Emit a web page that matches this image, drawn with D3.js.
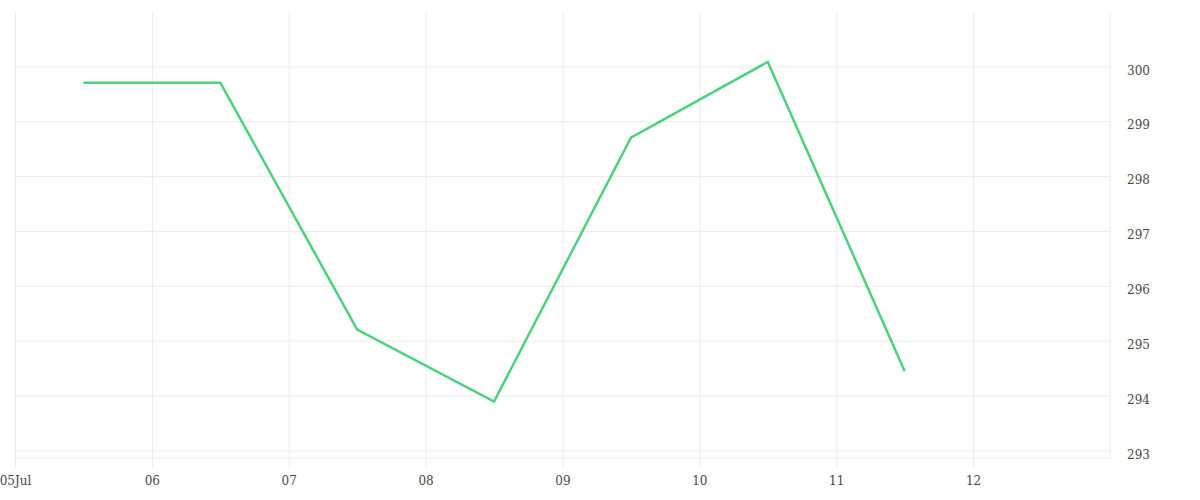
<!DOCTYPE html>
<html>
<head>
<meta charset="utf-8">
<script src="https://cdn.jsdelivr.net/npm/d3@7"></script>
<style>
  body { margin: 0; background: #fff; }
  svg { display: block; }
  .tick text { font-family: "DejaVu Serif", serif; font-size: 12px; fill: #484848; }
</style>
</head>
<body>
<div></div>
<script>
const width = 1200
const height = 500

// readings at noon of each day (July)
const days = ['2020-07-05T12:00', '2020-07-06T12:00', '2020-07-07T12:00', '2020-07-08T12:00',
              '2020-07-09T12:00', '2020-07-10T12:00', '2020-07-11T12:00']
const values = [299.71, 299.71, 295.21, 293.90, 298.71, 300.09, 294.45]
const yTicks = [293, 294, 295, 296, 297, 298, 299, 300]
const xStart = '2020-07-05T00:00'
const xEnd = '2020-07-13T00:00'
const yMin = 292.87
const yMax = 301.0

const parse = d3.timeParse('%Y-%m-%dT%H:%M')
let data = days.map((d, i) => ({ date: parse(d), value: values[i] }))

const margin = { top: 12, right: 90, bottom: 42, left: 15 }
const innerW = width - margin.left - margin.right
const innerH = height - margin.top - margin.bottom

let svg = d3.select('div').append('svg')
    .attr('width', width)
    .attr('height', height)

let g = svg.append('g')
    .attr('transform', 'translate(' + margin.left + ',' + margin.top + ')')

const x = d3.scaleTime()
    .domain([parse(xStart), parse(xEnd)])
    .range([0, innerW])

const y = d3.scaleLinear()
    .domain([yMin, yMax])
    .range([innerH, 0])

const gridColor = '#ebebeb'

// horizontal grid lines
g.selectAll('.hgrid')
    .data(yTicks)
    .enter()
    .append('line')
    .attr('x1', 0)
    .attr('x2', innerW)
    .attr('y1', d => y(d))
    .attr('y2', d => y(d))
    .style('stroke', gridColor)

// bottom border
g.append('line')
    .attr('x1', 0).attr('x2', innerW)
    .attr('y1', innerH).attr('y2', innerH)
    .style('stroke', gridColor)

// right border
g.append('line')
    .attr('x1', innerW).attr('x2', innerW)
    .attr('y1', 0).attr('y2', innerH)
    .style('stroke', gridColor)

// x axis: vertical grid + labels
const xTickDates = d3.timeDay.range(parse(xStart), parse(xEnd))
let xAxis = d3.axisBottom(x)
    .tickValues(xTickDates)
    .tickSize(innerH + 10)
    .tickPadding(8)
    .tickFormat(d => d.getDate() === 5 ? d3.timeFormat('%d%b')(d) : d3.timeFormat('%d')(d))

g.append('g')
    .call(xAxis)
    .call(a => a.select('.domain').remove())
    .call(a => a.selectAll('.tick line').style('stroke', gridColor))

// y axis on the right
let yAxis = d3.axisRight(y)
    .tickValues(yTicks)
    .tickSize(0)
    .tickPadding(17)
    .tickFormat(d3.format('d'))

g.append('g')
    .attr('transform', 'translate(' + innerW + ',0)')
    .call(yAxis)
    .call(a => a.select('.domain').remove())
    .call(a => a.selectAll('.tick text').attr('dy', '0.6em'))

// the series line
const line = d3.line()
    .x(d => x(d.date))
    .y(d => y(d.value))

g.append('path')
    .datum(data)
    .attr('d', line)
    .style('fill', 'none')
    .style('stroke', '#4cd27c')
    .style('stroke-width', 2.5)
</script>
</body>
</html>
